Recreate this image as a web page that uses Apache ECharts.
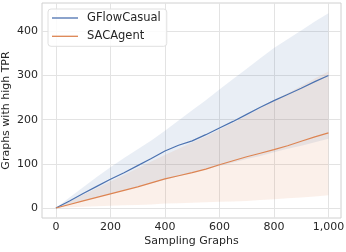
<!DOCTYPE html>
<html>
<head>
<meta charset="utf-8">
<script src="https://cdn.jsdelivr.net/npm/echarts@6/dist/echarts.min.js"></script>
<style>html,body{margin:0;padding:0;background:#fff;}#c{width:346px;height:252px;}</style>
</head>
<body>
<div id="c"></div>
<script>
const xs = [0,50,100,150,200,250,300,350,400,450,500,550,600,650,700,750,800,850,900,950,1000];
const gfMean  = [0,16,33,49,65,80,96,112,129,142,152,166,181,196,212,228,243,257,271,286,300];
const gfUpper = [0,24,47,70,92,113,133,153,175,198,221,244,268,292,315,339,362,382,402,422,441];
const gfLower = [0,8,16,24,32,40,48,56,64,72,80,88,95,103,111,118,126,134,141,149,157];
const sacMean  = [0,8,16,24,32,40,48,57,66,73,80,88,98,107,116,124,132,141,151,161,170];
const sacUpper = [0,15,30,45,60,75,90,105,120,134,148,162,177,193,209,226,244,260,276,293,309];
const sacLower = [0,2,3,4,5,6,7,8,10,11,12,13,14,15,16,18,20,22,24,26,29];
const xTicks = [0,200,400,600,800,1000];
const yTicks = [0,100,200,300,400];
const names = ['GFlowCasual','SACAgent'];

const pair = (arr) => xs.map((x,i)=>[x,arr[i]]);
const font = 'DejaVu Sans';
const txt = '#262626';

function band(id, lo, hi, color){
  const rows = xs.map((x,i)=>[x, lo[i], hi[i]]);
  return {
    type:'custom', name:id, silent:true, z:1,
    data: rows,
    encode:{x:0, y:[1,2]},
    renderItem: function(params, api){
      if (params.dataIndex !== 0) return null;
      const pts = [];
      for (let i=0;i<rows.length;i++) pts.push(api.coord([rows[i][0], rows[i][2]]));
      for (let i=rows.length-1;i>=0;i--) pts.push(api.coord([rows[i][0], rows[i][1]]));
      return {type:'polygon', shape:{points:pts}, style:{fill:color, stroke:null}};
    }
  };
}

const chart = echarts.init(document.getElementById('c'), null, {renderer:'canvas'});
chart.setOption({
  animation:false,
  backgroundColor:'#fff',
  textStyle:{fontFamily:font},
  grid:{left:42,right:5,top:3,bottom:34,containLabel:false,outerBoundsMode:'none',
        show:true,borderColor:'#d0d0d0',borderWidth:1,backgroundColor:'transparent'},
  legend:{
    data:[{name:names[0],icon:'rect'},{name:names[1],icon:'rect'}],
    orient:'vertical', left:48, top:9,
    padding:[3,6,4,4], itemGap:6.3, itemWidth:26, itemHeight:1.3,
    backgroundColor:'rgba(255,255,255,0.85)', borderColor:'#e0e0e0', borderWidth:1, borderRadius:3,
    textStyle:{fontFamily:font,fontSize:11.5,color:txt,padding:[0,0,0,4],lineHeight:12}
  },
  xAxis:{
    type:'value', min:-51, max:1046,
    name:'Sampling Graphs', nameLocation:'middle', nameGap:18, nameMoveOverlap:false,
    nameTextStyle:{fontFamily:font,fontSize:11,color:txt},
    axisLine:{show:false}, axisTick:{show:false, customValues:xTicks},
    axisLabel:{customValues:xTicks, color:txt, fontFamily:font, fontSize:11, margin:4},
    splitLine:{show:true, lineStyle:{color:'#e3e3e3', width:1}}
  },
  yAxis:{
    type:'value', min:-22.6, max:464,
    name:'Graphs with high TPR', nameLocation:'middle', nameGap:30, nameRotate:90, nameMoveOverlap:false,
    nameTextStyle:{fontFamily:font,fontSize:11,color:txt},
    axisLine:{show:false}, axisTick:{show:false, customValues:yTicks},
    axisLabel:{customValues:yTicks, color:txt, fontFamily:font, fontSize:11, margin:4},
    splitLine:{show:true, lineStyle:{color:'#e3e3e3', width:1}}
  },
  series:[
    band('gfb', gfLower, gfUpper, 'rgba(76,114,176,0.12)'),
    band('sacb', sacLower, sacUpper, 'rgba(221,132,82,0.12)'),
    {type:'line', name:names[0], data:pair(gfMean), symbol:'none', lineStyle:{color:'#4c72b0',width:1.2}, itemStyle:{color:'#4c72b0'}, z:3},
    {type:'line', name:names[1], data:pair(sacMean), symbol:'none', lineStyle:{color:'#dd8452',width:1.2}, itemStyle:{color:'#dd8452'}, z:3}
  ]
});
</script>
</body>
</html>
